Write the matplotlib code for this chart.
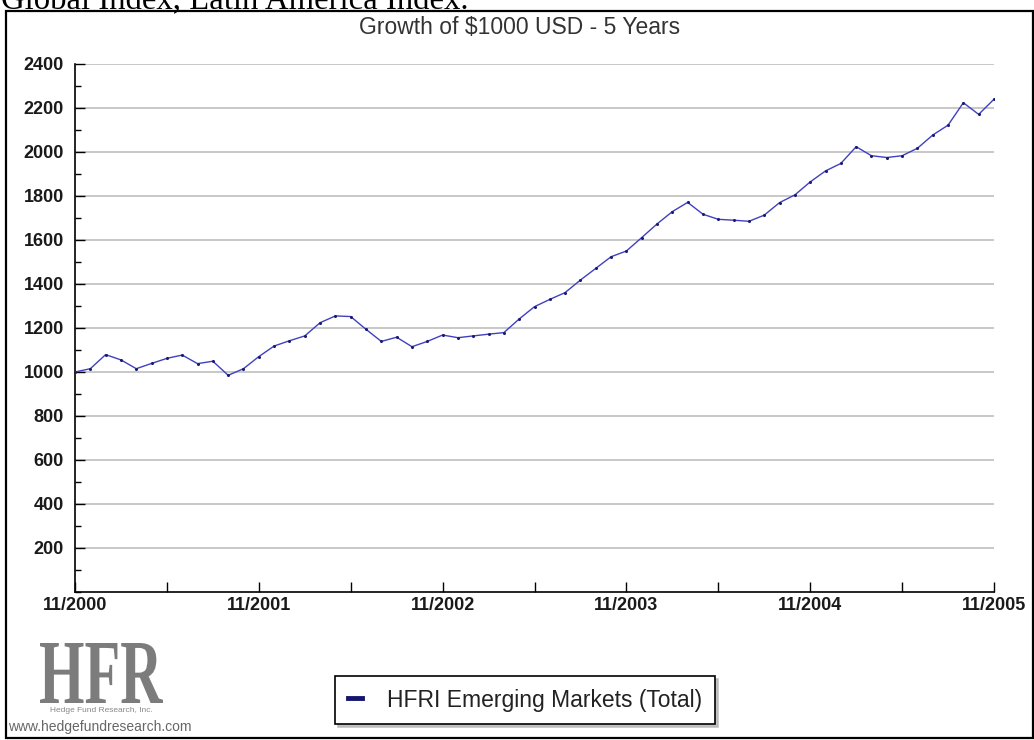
import matplotlib
matplotlib.use("Agg")
import matplotlib.pyplot as plt
from matplotlib.font_manager import FontProperties
from matplotlib.lines import Line2D
from matplotlib.patches import PathPatch, Rectangle
from matplotlib.textpath import TextPath
from matplotlib.ticker import MultipleLocator
import matplotlib.transforms as mtransforms

# Monthly value of $1000 invested, 11/2000 .. 11/2005
months = list(range(61))
growth = [1000, 1015, 1079, 1055, 1015, 1039, 1062, 1077, 1038, 1049, 985, 1015,
          1070, 1118, 1142, 1164, 1224, 1255, 1252, 1194, 1139, 1158, 1115, 1139,
          1168, 1156, 1164, 1172, 1179, 1241, 1297, 1330, 1361, 1418, 1471, 1524,
          1550, 1611, 1673, 1729, 1771, 1717, 1694, 1690, 1685, 1713, 1770, 1805,
          1864, 1914, 1948, 2024, 1983, 1975, 1983, 2017, 2077, 2122, 2224, 2171, 2240]
tick_months = list(range(0, 61, 6))
tick_labels = ["11/2000", "", "11/2001", "", "11/2002", "", "11/2003", "",
               "11/2004", "", "11/2005"]
y_ticks = list(range(200, 2401, 200))
series_name = "HFRI Emerging Markets (Total)"

W, H = 1034, 740
fig = plt.figure(figsize=(W / 100, H / 100), dpi=100)
fig.patch.set_facecolor("white")
sans = "Liberation Sans"


def px(x, y):
    """pixel position (from top-left) -> figure fraction"""
    return x / W, 1 - y / H


# caption line of the surrounding page, mostly cut off at the top
fig.text(*px(1, 8.5), "Global Index, Latin America Index.", family="Liberation Serif",
         fontsize=23.6, ha="left", va="baseline", color="black")

# outer frame of the chart
fig.add_artist(Rectangle(px(6, 738), (W - 1 - 6) / W, (738 - 11) / H,
                         transform=fig.transFigure, fill=False, ec="black", lw=1.6))

fig.text(*px(520, 27), "Growth of $1000 USD - 5 Years", family=sans,
         fontsize=16.5, ha="center", va="center", color="#333333")

ax = fig.add_axes([75 / W, 1 - 592 / H, (994 - 75) / W, (592 - 64) / H])
ax.plot(months, growth, color="#4040c0", lw=1.0, marker="o", markersize=1.2,
        markerfacecolor="#1a1a70", markeredgecolor="#1a1a70", zorder=3)

ax.set_xlim(0, 60)
ax.set_ylim(0, 2400)
ax.set_xticks(tick_months)
ax.set_xticklabels(tick_labels)
ax.set_yticks(y_ticks)
ax.yaxis.set_minor_locator(MultipleLocator(100))
ax.grid(axis="y", color="#c8c8c8", lw=1.4, zorder=1)
for s in ("top", "right"):
    ax.spines[s].set_visible(False)
for s in ("left", "bottom"):
    ax.spines[s].set_color("black")
    ax.spines[s].set_linewidth(1.2)
ax.tick_params(axis="x", direction="in", length=7.2, width=1.0, pad=3.5,
               labelsize=13, colors="black")
ax.tick_params(axis="y", which="major", direction="in", length=7.2, width=1.0,
               pad=8, labelsize=13)
ax.tick_params(axis="y", which="minor", direction="in", length=4.5, width=1.0)
for lab in ax.get_xticklabels() + ax.get_yticklabels():
    lab.set_family(sans)
    lab.set_fontweight("bold")
    lab.set_color("#1a1a1a")

# legend below the plot
handle = Line2D([], [], color="#15156e", lw=3.5)
leg = fig.legend([handle], [series_name], loc="center",
                 bbox_to_anchor=px(525, 700), bbox_transform=fig.transFigure,
                 prop=FontProperties(family=sans, size=16.5), handlelength=0.6,
                 handletextpad=1.1, borderpad=0.55, fancybox=False,
                 shadow={"ox": 2.2, "oy": -2.2, "color": "#b4b4b4", "alpha": 0.8},
                 edgecolor="black", framealpha=1)
leg.get_frame().set_linewidth(1.2)
for t in leg.get_texts():
    t.set_color("#222222")

# HFR logo, condensed serif letters
logo = TextPath((0, 0), "HFR", size=1, prop=FontProperties(family="Liberation Serif",
                                                          weight="bold"))
bb = logo.get_extents()
logo_tr = (mtransforms.Affine2D()
           .translate(-bb.x0, -bb.y0)
           .scale(123 / bb.width, 60 / bb.height)
           .translate(40, H - 703)
           .scale(1 / W, 1 / H)) + fig.transFigure
fig.add_artist(PathPatch(logo, transform=logo_tr, fc="#7c7c7c", ec="none"))
fig.text(*px(101, 711), "Hedge Fund Research, Inc.", family=sans, fontsize=6,
         ha="center", va="center", color="#888888")
fig.text(*px(8, 727), "www.hedgefundresearch.com", family=sans, fontsize=10,
         ha="left", va="center", color="#666666")

fig.savefig("out.png", dpi=100)
